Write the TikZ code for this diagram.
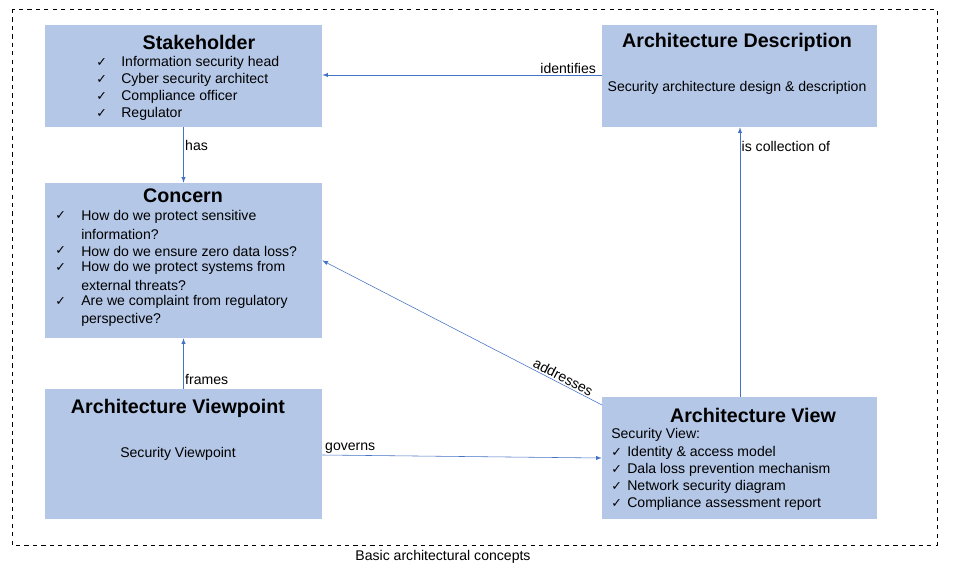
\documentclass[tikz,border=0pt]{standalone}
\usepackage{fontspec}
\setmainfont{Liberation Sans}
\newfontfamily\symfont{DejaVu Sans}
\usetikzlibrary{positioning}
\definecolor{boxblue}{HTML}{B4C7E7}
\definecolor{linkblue}{HTML}{4472C4}
\tikzset{
  box/.style={fill=boxblue, inner sep=0pt},
  title/.style={font=\fontsize{14}{16}\selectfont\bfseries},
  txt/.style={font=\fontsize{10}{12}\selectfont, anchor=west, inner sep=0pt},
  link/.style={->, >=latex, linkblue, thin},
  lbl/.style={font=\fontsize{10}{12}\selectfont, text=black, inner sep=1pt}
}
\newcommand{\chk}{{\symfont\fontsize{9}{10}\selectfont ✓}}
\begin{document}
\begin{tikzpicture}[x=0.025cm,y=-0.025cm]
        \useasboundingbox (0,0) rectangle (972,570);
        \draw[dashed] (12,9) rectangle (937,545);
        \node[font=\fontsize{10}{12}\selectfont] (cap) at (443,557) {Basic architectural concepts};

        % boxes
        \node[box, minimum width=6.925cm, minimum height=2.55cm] (stake) at (183.5,76) {};
        \node[box, minimum width=6.875cm, minimum height=2.55cm] (desc) at (739.5,76) {};
        \node[box, minimum width=6.925cm, minimum height=3.875cm] (concern) at (183.5,260.5) {};
        \node[box, minimum width=6.925cm, minimum height=3.25cm] (vpoint) at (183.5,454) {};
        \node[box, minimum width=6.875cm, minimum height=3.05cm] (view) at (739.5,458) {};

        % stakeholder
        \node[title] (stakeT) at (199,42) {Stakeholder};
        \foreach \y/\t in {63/Information security head, 80/Cyber security architect,
                           97/Compliance officer, 114/Regulator} {
          \node[txt] at (96,\y) {\chk};
          \node[txt] at (121,\y) {\t};
        }

        % concern
        \node[title] (concernT) at (183,196) {Concern};
        \foreach \y in {216,251,268,302} \node[txt] at (55,\y) {\chk};
        \foreach \y/\t in {217/How do we protect sensitive, 234/information?,
                           251/How do we ensure zero data loss?, 268/How do we protect systems from,
                           285/external threats?, 302/Are we complaint from regulatory,
                           320/perspective?} {
          \node[txt] at (81,\y) {\t};
        }

        % description
        \node[title] (descT) at (737,42) {Architecture Description};
        \node[txt, anchor=center] (descB) at (737,88) {Security architecture design \& description};

        % viewpoint
        \node[title] (vpointT) at (178,408) {Architecture Viewpoint};
        \node[txt, anchor=center] (vpointB) at (178,454) {Security Viewpoint};

        % view
        \node[title] (viewT) at (753,415) {Architecture View};
        \node[txt] at (611,435) {Security View:};
        \foreach \y/\t in {453/Identity \& access model, 470/Dala loss prevention mechanism,
                           487/Network security diagram, 504/Compliance assessment report} {
          \node[txt] at (611,\y) {\chk};
          \node[txt] at (627,\y) {\t};
        }

        % connectors
        \draw[link] (desc.west |- 0,75) -- node[lbl, above, pos=0.12] {identifies} (stake.east |- 0,75);
        \draw[link] (stake.south) -- node[lbl, right, pos=0.32] {has} (concern.north);
        \draw[link] (view.north -| 740,0) -- node[lbl, right, pos=0.93] {is collection of} (desc.south -| 740,0);
        \draw[link] (602,405) -- node[lbl, above, sloped, pos=0.15] {addresses} (concern.east);
        \draw[link] (vpoint.north) -- node[lbl, right, pos=0.18] {frames} (concern.south);
        \draw[link] (vpoint.east |- 0,455) -- node[lbl, above, pos=0.1] {governs} (view.west |- 0,458);
    \end{tikzpicture}
\end{document}
